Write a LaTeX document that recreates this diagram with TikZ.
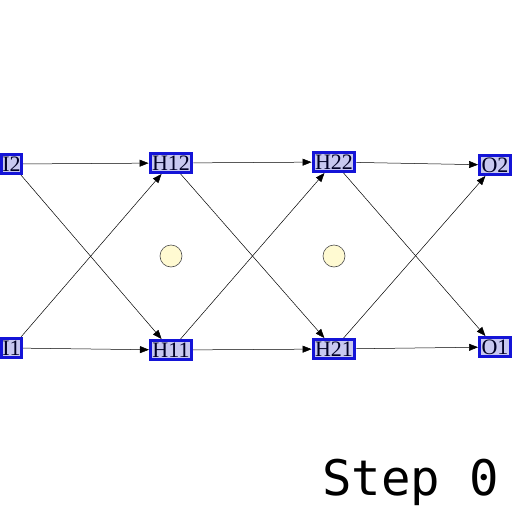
\documentclass[tikz,border=0pt]{standalone}
\usepackage{fontspec}
\setmainfont{Liberation Serif}
\newfontfamily\stepfont{DejaVu Sans Mono}
\usetikzlibrary{arrows.meta}
\definecolor{boxblue}{RGB}{20,20,215}
\definecolor{boxfill}{RGB}{200,200,240}
\definecolor{cream}{RGB}{255,250,210}
\tikzset{
  unit/.style={draw=boxblue, line width=3pt, fill=boxfill, inner xsep=2pt, inner ysep=0pt,
    text height=14.5pt, text depth=0.5pt,
    minimum height=19pt, font=\fontsize{22}{22}\selectfont, text=black!85!blue},
  conn/.style={-{Triangle[length=9pt,width=7pt]}, line width=0.5pt, black},
  dot/.style={circle, draw=black!70, fill=cream, line width=0.6pt, minimum size=22pt, inner sep=0pt}
}
\begin{document}
\begin{tikzpicture}[x=1pt,y=-1pt]
\useasboundingbox (0,0) rectangle (512,512);
\node[unit, inner xsep=1pt] (I2) at (11.5,164) {I2};
\node[unit, inner xsep=1pt] (I1) at (11.5,348) {I1};
\node[unit] (H12) at (171,163) {H12};
\node[unit] (H11) at (171,350) {H11};
\node[unit] (H22) at (334,162) {H22};
\node[unit] (H21) at (334,349) {H21};
\node[unit] (O2) at (495,165) {O2};
\node[unit] (O1) at (495,347) {O1};
\node[dot] (c1) at (171,256) {};
\node[dot] (c2) at (334,256) {};
\draw[conn] (I2) -- (H12);
\draw[conn] (I2) -- (H11);
\draw[conn] (I1) -- (H12);
\draw[conn] (I1) -- (H11);
\draw[conn] (H12) -- (H22);
\draw[conn] (H12) -- (H21);
\draw[conn] (H11) -- (H22);
\draw[conn] (H11) -- (H21);
\draw[conn] (H22) -- (O2);
\draw[conn] (H22) -- (O1);
\draw[conn] (H21) -- (O2);
\draw[conn] (H21) -- (O1);
\node[anchor=base west, inner sep=0pt, font=\stepfont\fontsize{49}{49}\selectfont] (step) at (322,495) {Step 0};
\end{tikzpicture}
\end{document}
